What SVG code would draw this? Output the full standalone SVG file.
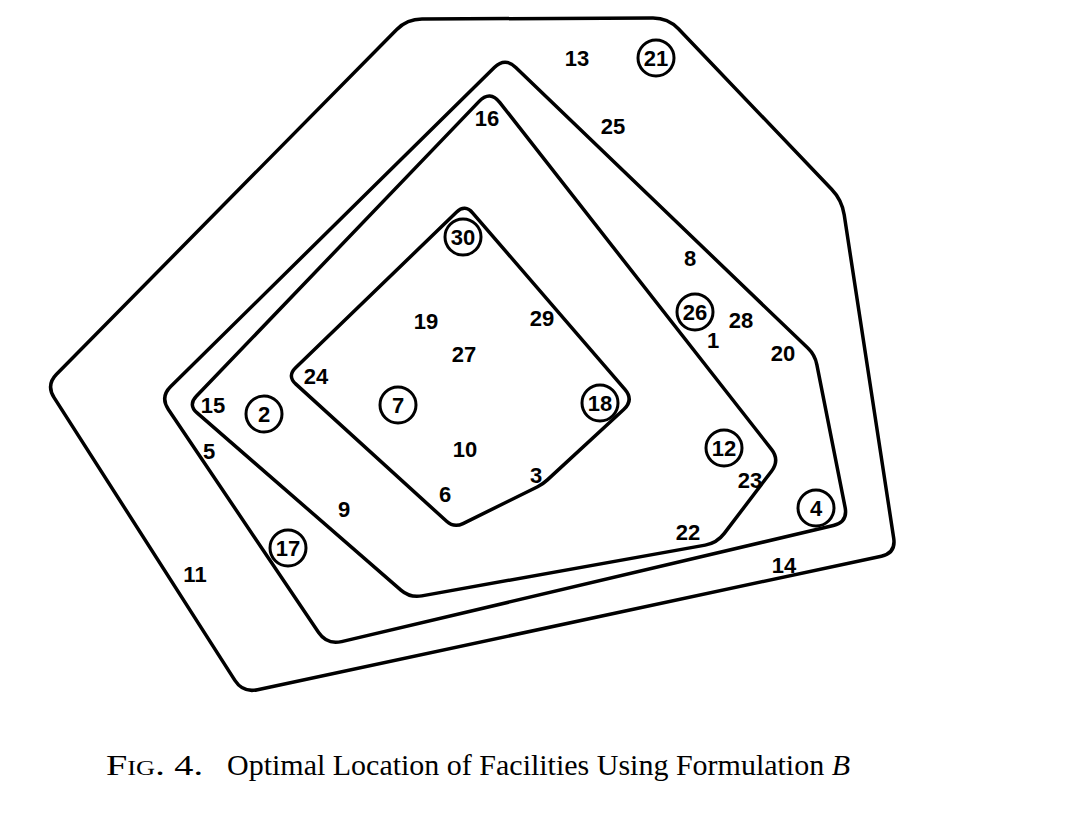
<svg xmlns="http://www.w3.org/2000/svg" width="1076" height="822" viewBox="0 0 1076 822">
<style>
.ln{fill:none;stroke:#000;stroke-width:3.5;stroke-linejoin:round}
.c{fill:none;stroke:#000;stroke-width:3}
.t{font-family:"Liberation Sans",Arial,sans-serif;font-weight:bold;font-size:22px;text-anchor:middle;fill:#000}
.cap{font-family:"Liberation Serif","Times New Roman",serif;font-size:29px;fill:#000}
</style>
<rect width="1076" height="822" fill="#fff"/>
<g id="regions">
<path id="region1" class="ln" d="M 422,19 L 653,18 Q 668,18 678.4,28.8 L 831.6,189.2 Q 842,200 844.2,214.8 L 893.7,538.2 Q 896,553 881.4,556.2 L 257.6,689.7 Q 243,693 234.9,680.4 L 54.1,397.6 Q 46,385 56.5,374.3 L 396.5,29.7 Q 407,19 422,19 Z"/>
<path id="region2" class="ln" d="M 515.8,67.4 L 807.8,348.1 Q 815,355 816.9,364.8 L 845.1,507.3 Q 848,522 833.4,525.5 L 341.6,641.6 Q 327,645 318.6,632.6 L 168.4,409.4 Q 160,397 170.7,386.5 L 494.3,67.5 Q 505,57 515.8,67.4 Z"/>
<path id="region3" class="ln" d="M 499.9,102.6 L 771.3,449.1 Q 780,460 771.5,471.2 L 724.3,533.4 Q 717,543 705.2,545.1 L 421.8,595.9 Q 410,598 400.9,590.1 L 197.1,412.9 Q 188,405 196.3,396.3 L 478.9,101.6 Q 490,90 499.9,102.6 Z"/>
<path id="region4" class="ln" d="M 472.8,213.1 L 624.9,389.4 Q 634,400 623.7,409.5 L 547.4,479.9 Q 543,484 537.6,486.7 L 463,523.6 Q 454,528 446.6,521.3 L 295.9,384.1 Q 287,376 295.6,367.7 L 456.4,212.3 Q 465,204 472.8,213.1 Z"/>
</g>
<g id="facilities">
<circle class="c" cx="656" cy="58" r="18"/>
<circle class="c" cx="463" cy="237" r="18"/>
<circle class="c" cx="695" cy="312" r="18"/>
<circle class="c" cx="264" cy="414" r="18"/>
<circle class="c" cx="398" cy="405" r="18"/>
<circle class="c" cx="600" cy="403" r="18"/>
<circle class="c" cx="724" cy="448" r="18"/>
<circle class="c" cx="816" cy="508" r="18"/>
<circle class="c" cx="288" cy="548" r="18"/>
</g>
<g id="labels">
<text class="t" x="577" y="66">13</text>
<text class="t" x="656" y="66">21</text>
<text class="t" x="487" y="126">16</text>
<text class="t" x="613" y="134">25</text>
<text class="t" x="463" y="245">30</text>
<text class="t" x="690" y="266">8</text>
<text class="t" x="426" y="329">19</text>
<text class="t" x="542" y="326">29</text>
<text class="t" x="695" y="320">26</text>
<text class="t" x="741" y="328">28</text>
<text class="t" x="713" y="348">1</text>
<text class="t" x="464" y="362">27</text>
<text class="t" x="783" y="361">20</text>
<text class="t" x="316" y="384">24</text>
<text class="t" x="213" y="413">15</text>
<text class="t" x="264" y="422">2</text>
<text class="t" x="398" y="413">7</text>
<text class="t" x="600" y="411">18</text>
<text class="t" x="465" y="457">10</text>
<text class="t" x="724" y="456">12</text>
<text class="t" x="750" y="488">23</text>
<text class="t" x="536" y="483">3</text>
<text class="t" x="209" y="459">5</text>
<text class="t" x="344" y="517">9</text>
<text class="t" x="445" y="502">6</text>
<text class="t" x="816" y="516">4</text>
<text class="t" x="688" y="540">22</text>
<text class="t" x="288" y="556">17</text>
<text class="t" x="784" y="573">14</text>
<text class="t" x="195" y="582">11</text>
</g>
<g id="caption" class="cap">
<text x="106" y="775" textLength="97" lengthAdjust="spacingAndGlyphs" font-variant="small-caps">Fig. 4.</text>
<text x="227" y="775" textLength="623" lengthAdjust="spacingAndGlyphs">Optimal Location of Facilities Using Formulation <tspan font-style="italic">B</tspan></text>
</g>
</svg>
